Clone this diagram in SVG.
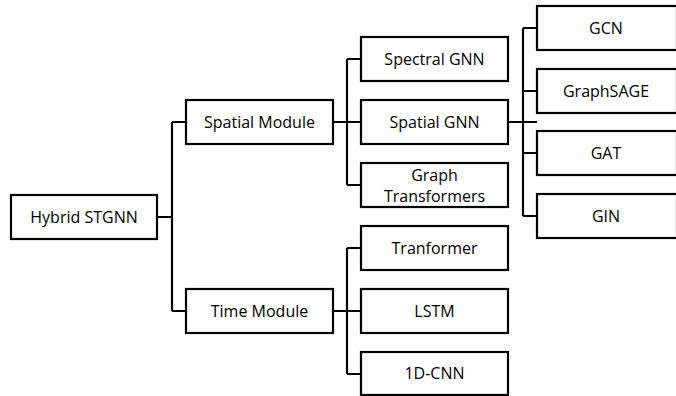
<svg xmlns="http://www.w3.org/2000/svg" width="676" height="396" viewBox="0 0 676 396">
<style>
.box{fill:#fff;stroke:#000;stroke-width:2.2}
.lbl{font-family:"Open Sans","Liberation Sans",Arial,sans-serif;font-size:16px;fill:#000;text-anchor:middle}
.con{fill:none;stroke:#000;stroke-width:2.2}
</style>
<rect width="676" height="396" fill="#fff"/>
<g id="connectors">
<path class="con" d="M157,217 H172 M172,122 V311 M172,122 H186 M172,311 H186"/>
<path class="con" d="M333,122 H361 M347,59 V185 M347,59 H361 M347,185 H361"/>
<path class="con" d="M333,311 H361 M347,248 V374 M347,248 H361 M347,374 H361"/>
<path class="con" d="M508,122 H537 M523,28 V216 M523,28 H537 M523,91 H537 M523,153 H537 M523,216 H537"/>
</g>
<g id="hybrid"><rect class="box" x="11" y="195" width="146" height="44"/><text class="lbl" x="84" y="222.5">Hybrid STGNN</text></g>
<g id="spatial-module"><rect class="box" x="186" y="100" width="147" height="44"/><text class="lbl" x="259.5" y="127.5">Spatial Module</text></g>
<g id="time-module"><rect class="box" x="186" y="289" width="147" height="44"/><text class="lbl" x="259.5" y="316.5">Time Module</text></g>
<g id="spectral-gnn"><rect class="box" x="361" y="37" width="147" height="44"/><text class="lbl" x="434.5" y="64.5">Spectral GNN</text></g>
<g id="spatial-gnn"><rect class="box" x="361" y="100" width="147" height="44"/><text class="lbl" x="434.5" y="127.5">Spatial GNN</text></g>
<g id="graph-transformers"><rect class="box" x="361" y="163" width="147" height="44"/><text class="lbl" x="434.5" y="180.5">Graph</text><text class="lbl" x="434.5" y="201.5">Transformers</text></g>
<g id="tranformer"><rect class="box" x="361" y="226" width="147" height="44"/><text class="lbl" x="434.5" y="253.5">Tranformer</text></g>
<g id="lstm"><rect class="box" x="361" y="289" width="147" height="44"/><text class="lbl" x="434.5" y="316.5">LSTM</text></g>
<g id="cnn1d"><rect class="box" x="361" y="352" width="147" height="43"/><text class="lbl" x="434.5" y="379">1D-CNN</text></g>
<g id="gcn"><rect class="box" x="537" y="6" width="140" height="44"/><text class="lbl" x="606" y="33.5">GCN</text></g>
<g id="graphsage"><rect class="box" x="537" y="69" width="140" height="44"/><text class="lbl" x="606" y="96.5">GraphSAGE</text></g>
<g id="gat"><rect class="box" x="537" y="131" width="140" height="44"/><text class="lbl" x="606" y="158.5">GAT</text></g>
<g id="gin"><rect class="box" x="537" y="194" width="140" height="44"/><text class="lbl" x="606" y="221.5">GIN</text></g>
</svg>
